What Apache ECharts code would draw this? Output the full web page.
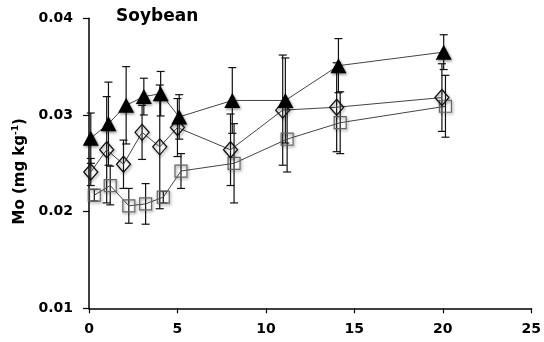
<!DOCTYPE html>
<html><head><meta charset="utf-8">
<script src="https://cdn.jsdelivr.net/npm/echarts@6/dist/echarts.min.js"></script>
<style>html,body{margin:0;padding:0;background:#fff}#c{width:544px;height:342px}</style>
</head><body><div id="c"></div>
<script>
// Days (read per series; markers are slightly offset in the original)
const triX = [0.1, 1.1, 2.1, 3.1, 4.05, 5.1, 8.1, 11.1, 14.1, 20.05];
const diaX = [0.1, 1.0, 1.95, 3.0, 4.0, 5.0, 8.0, 10.95, 14.0, 19.95];
const sqX  = [0.3, 1.2, 2.25, 3.2, 4.2, 5.2, 8.2, 11.2, 14.2, 20.15];
// Mo concentration (mg kg-1)
const triY = [0.0276, 0.0291, 0.0310, 0.0319, 0.0322, 0.0298, 0.0315, 0.0315, 0.0351, 0.0365];
const diaY = [0.0241, 0.0264, 0.0249, 0.0282, 0.0267, 0.0287, 0.0264, 0.0305, 0.0308, 0.0318];
const sqY  = [0.0217, 0.0227, 0.0206, 0.0208, 0.0215, 0.0242, 0.0250, 0.0275, 0.0292, 0.0309];
// error (± half-range)
const triE = [0.0026, 0.0043, 0.0040, 0.0019, 0.0023, 0.0023, 0.0034, 0.0044, 0.0028, 0.0018];
const diaE = [0.0014, 0.0055, 0.0025, 0.0028, 0.0064, 0.0030, 0.0037, 0.0057, 0.0046, 0.0035];
const sqE  = [0.0006, 0.0020, 0.0018, 0.0021, 0.0006, 0.0018, 0.0041, 0.0034, 0.0032, 0.0032];
const yTicks = [0.01, 0.02, 0.03, 0.04];
const xTicks = [0, 5, 10, 15, 20, 25];

const FONT = 'DejaVu Sans';
const pts = (xs, ys) => xs.map((x, i) => [x, ys[i]]);
const errs = (xs, ys, es) => xs.map((x, i) => [x, ys[i] - es[i], ys[i] + es[i]]);

function errRender(params, api) {
  const x = api.value(0), lo = api.value(1), hi = api.value(2);
  const p1 = api.coord([x, hi]), p2 = api.coord([x, lo]);
  const w = 4;
  const style = { stroke: '#111', lineWidth: 1.2, fill: null };
  return { type: 'group', children: [
    { type: 'line', shape: { x1: p1[0], y1: p1[1], x2: p2[0], y2: p2[1] }, style },
    { type: 'line', shape: { x1: p1[0] - w, y1: p1[1], x2: p1[0] + w, y2: p1[1] }, style },
    { type: 'line', shape: { x1: p2[0] - w, y1: p2[1], x2: p2[0] + w, y2: p2[1] }, style }
  ]};
}
const shadow = { shadowBlur: 3, shadowColor: 'rgba(0,0,0,0.45)', shadowOffsetX: 1, shadowOffsetY: 1.5 };

function errSeries(data) {
  return { type: 'custom', renderItem: errRender, data, encode: { x: 0, y: [1, 2] }, z: 3, silent: true };
}
function lineSeries(data, symbol, size, itemStyle) {
  return { type: 'line', data, symbol, symbolSize: size, showAllSymbol: true,
    lineStyle: { color: '#444', width: 1 }, itemStyle, z: 4, animation: false };
}

const chart = echarts.init(document.getElementById('c'));
chart.setOption({
  animation: false,
  title: { text: 'Soybean', left: 111, top: 3,
    textStyle: { fontFamily: FONT, fontWeight: 'bold', fontSize: 17, color: '#000' } },
  grid: { left: 89, right: 11, top: 18.3, bottom: 33.7, containLabel: false },
  xAxis: { type: 'value', min: xTicks[0], max: xTicks[xTicks.length - 1], interval: 5,
    axisLine: { lineStyle: { color: '#000', width: 1.5 } },
    axisTick: { length: 5, lineStyle: { color: '#000', width: 1.2 } },
    splitLine: { show: false },
    axisLabel: { fontFamily: FONT, fontWeight: 'bold', fontSize: 14, color: '#000', margin: 14 } },
  yAxis: { type: 'value', min: yTicks[0], max: yTicks[yTicks.length - 1], interval: 0.01,
    axisLine: { show: true, lineStyle: { color: '#000', width: 1.5 } },
    axisTick: { show: true, length: 6, lineStyle: { color: '#000', width: 1.2 } },
    splitLine: { show: false },
    axisLabel: { fontFamily: FONT, fontWeight: 'bold', fontSize: 14, color: '#000', margin: 16,
      formatter: v => v.toFixed(2) },
    name: 'Mo (mg kg{sup|-1})', nameLocation: 'middle', nameGap: 58, nameRotate: 90,
    nameTextStyle: { fontFamily: FONT, fontWeight: 'bold', fontSize: 15, color: '#000',
      padding: [0, 16, 0, 0],
      rich: { sup: { fontFamily: FONT, fontWeight: 'bold', fontSize: 9, color: '#000', verticalAlign: 'top', padding: [0, 0, 8, 0] } } } },
  series: [
    errSeries(errs(sqX, sqY, sqE)),
    errSeries(errs(diaX, diaY, diaE)),
    errSeries(errs(triX, triY, triE)),
    lineSeries(pts(sqX, sqY), 'rect', 12, { color: 'rgba(255,255,255,0)', borderColor: '#666', borderWidth: 1.2, ...shadow }),
    lineSeries(pts(diaX, diaY), 'diamond', [14, 16], { color: 'rgba(255,255,255,0)', borderColor: '#111', borderWidth: 1.3, ...shadow }),
    lineSeries(pts(triX, triY), 'triangle', [16, 15], { color: '#000', borderColor: '#000', borderWidth: 0, ...shadow })
  ]
});
</script></body></html>
